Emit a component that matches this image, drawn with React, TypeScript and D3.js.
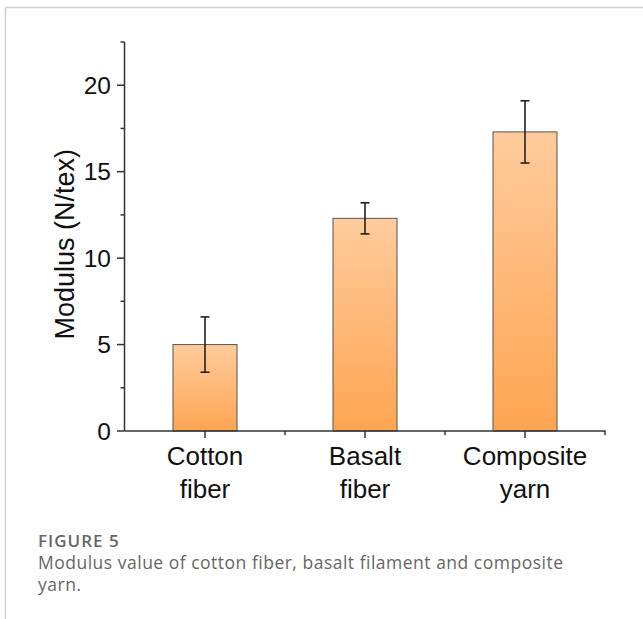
import React from "react";
import * as d3 from "d3";

const categories = ["Cotton fiber", "Basalt fiber", "Composite yarn"];
const labelLines = [["Cotton", "fiber"], ["Basalt", "fiber"], ["Composite", "yarn"]];
const modulus = [5.0, 12.3, 17.3];
const errors = [1.6, 0.9, 1.8];
const yTicks = [0, 5, 10, 15, 20];
const yMinorTicks = [2.5, 7.5, 12.5, 17.5, 22.5];

export default function App() {
  const W = 643, H = 619;
  const x = d3.scalePoint<string>().domain(categories).range([125, 605]).padding(0.5);
  const y = d3.scaleLinear().domain([0, 22.5]).range([431, 42]);
  const barW = 64;
  const axisColor = "#333";
  const font = "'Liberation Sans', Arial, sans-serif";
  const step = x.step();
  const minorX = categories.slice(0, -1).map((c) => (x(c) as number) + step / 2);

  return (
    <svg width={W} height={H} style={{ position: "absolute", left: 0, top: 0 }}>
      <defs>
        <linearGradient id="barGrad" x1="0" y1="0" x2="0" y2="1">
          <stop offset="0%" stopColor="#ffcb9c" />
          <stop offset="100%" stopColor="#ffa552" />
        </linearGradient>
      </defs>
      <rect x={0} y={0} width={W} height={H} fill="#fff" />
      <line x1={5.5} y1={7.5} x2={W} y2={7.5} stroke="#d0d0d0" strokeWidth={1.5} />
      <line x1={5.5} y1={7.5} x2={5.5} y2={H} stroke="#d0d0d0" strokeWidth={1.5} />

      {categories.map((c, i) => {
        const cx = x(c) as number;
        return (
          <g key={c}>
            <rect
              x={cx - barW / 2}
              y={y(modulus[i])}
              width={barW}
              height={y(0) - y(modulus[i])}
              fill="url(#barGrad)"
              stroke="#555"
              strokeWidth={1}
            />
            <line x1={cx} x2={cx} y1={y(modulus[i] + errors[i])} y2={y(modulus[i] - errors[i])} stroke="#222" strokeWidth={1.6} />
            <line x1={cx - 4.5} x2={cx + 4.5} y1={y(modulus[i] + errors[i])} y2={y(modulus[i] + errors[i])} stroke="#222" strokeWidth={1.6} />
            <line x1={cx - 4.5} x2={cx + 4.5} y1={y(modulus[i] - errors[i])} y2={y(modulus[i] - errors[i])} stroke="#222" strokeWidth={1.6} />
          </g>
        );
      })}

      {/* y axis */}
      <line x1={124.5} x2={124.5} y1={y(22.5)} y2={y(0)} stroke={axisColor} strokeWidth={1.5} />
      {yTicks.map((t) => (
        <g key={t}>
          <line x1={117} x2={124.5} y1={y(t)} y2={y(t)} stroke={axisColor} strokeWidth={1.5} />
          <text x={111} y={y(t)} dy="0.36em" textAnchor="end" fontFamily={font} fontSize={24.5} fill="#111">
            {t}
          </text>
        </g>
      ))}
      {yMinorTicks.map((t) => (
        <line key={t} x1={120.5} x2={124.5} y1={y(t)} y2={y(t)} stroke={axisColor} strokeWidth={1.5} />
      ))}
      <text
        transform={`translate(64,${y(10.8)}) rotate(-90)`}
        textAnchor="middle"
        dy="0.36em"
        fontFamily={font}
        fontSize={27}
        fill="#111"
      >
        Modulus (N/tex)
      </text>

      {/* x axis */}
      <line x1={124.5} x2={605.5} y1={y(0)} y2={y(0)} stroke={axisColor} strokeWidth={1.5} />
      {categories.map((c) => (
        <line key={c} x1={x(c) as number} x2={x(c) as number} y1={y(0)} y2={y(0) + 7} stroke={axisColor} strokeWidth={1.5} />
      ))}
      {[...minorX, 605].map((mx, i) => (
        <line key={i} x1={mx} x2={mx} y1={y(0)} y2={y(0) + 4} stroke={axisColor} strokeWidth={1.5} />
      ))}
      {categories.map((c, i) => (
        <text key={c} x={x(c) as number} y={465} textAnchor="middle" fontFamily={font} fontSize={26} fill="#111">
          {labelLines[i].map((ln, j) => (
            <tspan key={j} x={x(c) as number} dy={j === 0 ? 0 : 33}>
              {ln}
            </tspan>
          ))}
        </text>
      ))}

      {/* caption */}
      <text x={38} y={547} fontFamily="'Open Sans', sans-serif" fontSize={17} fontWeight={600} letterSpacing={1} fill="#666">
        FIGURE 5
      </text>
      <text x={38} y={569} fontFamily="'Open Sans', sans-serif" fontSize={17.5} letterSpacing={0.5} fill="#666">
        Modulus value of cotton fiber, basalt filament and composite
      </text>
      <text x={38} y={591} fontFamily="'Open Sans', sans-serif" fontSize={17.5} letterSpacing={0.5} fill="#666">
        yarn.
      </text>
    </svg>
  );
}
